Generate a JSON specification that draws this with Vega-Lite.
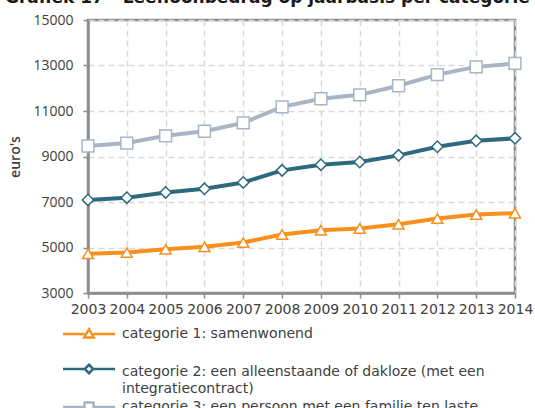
{
  "$schema": "https://vega.github.io/schema/vega-lite/v6.json",
  "width": 427,
  "height": 273,
  "autosize": {"type": "none"},
  "padding": {"left": 88, "top": 20, "right": 20, "bottom": 115},
  "background": "white",
  "title": {
    "text": "Grafiek 17 - Leefloonbedrag op jaarbasis per categorie",
    "anchor": "start",
    "frame": "group",
    "dx": -83,
    "offset": 6.5,
    "font": "DejaVu Sans",
    "fontSize": 17,
    "fontWeight": "bold",
    "color": "#1a1a1a"
  },
  "config": {
    "view": {"stroke": "#8c8c8c", "strokeWidth": 2.5},
    "legend": {"padding": 0}
  },
  "data": {
    "values": [
      {"jaar": "2003", "categorie": "categorie 1: samenwonend", "waarde": 4720},
      {"jaar": "2004", "categorie": "categorie 1: samenwonend", "waarde": 4780},
      {"jaar": "2005", "categorie": "categorie 1: samenwonend", "waarde": 4920},
      {"jaar": "2006", "categorie": "categorie 1: samenwonend", "waarde": 5030},
      {"jaar": "2007", "categorie": "categorie 1: samenwonend", "waarde": 5220},
      {"jaar": "2008", "categorie": "categorie 1: samenwonend", "waarde": 5570},
      {"jaar": "2009", "categorie": "categorie 1: samenwonend", "waarde": 5760},
      {"jaar": "2010", "categorie": "categorie 1: samenwonend", "waarde": 5840},
      {"jaar": "2011", "categorie": "categorie 1: samenwonend", "waarde": 6020},
      {"jaar": "2012", "categorie": "categorie 1: samenwonend", "waarde": 6270},
      {"jaar": "2013", "categorie": "categorie 1: samenwonend", "waarde": 6450},
      {"jaar": "2014", "categorie": "categorie 1: samenwonend", "waarde": 6510},
      {"jaar": "2003", "categorie": "categorie 2: een alleenstaande of dakloze (met een integratiecontract)", "waarde": 7090},
      {"jaar": "2004", "categorie": "categorie 2: een alleenstaande of dakloze (met een integratiecontract)", "waarde": 7190},
      {"jaar": "2005", "categorie": "categorie 2: een alleenstaande of dakloze (met een integratiecontract)", "waarde": 7420},
      {"jaar": "2006", "categorie": "categorie 2: een alleenstaande of dakloze (met een integratiecontract)", "waarde": 7580},
      {"jaar": "2007", "categorie": "categorie 2: een alleenstaande of dakloze (met een integratiecontract)", "waarde": 7860},
      {"jaar": "2008", "categorie": "categorie 2: een alleenstaande of dakloze (met een integratiecontract)", "waarde": 8390},
      {"jaar": "2009", "categorie": "categorie 2: een alleenstaande of dakloze (met een integratiecontract)", "waarde": 8640},
      {"jaar": "2010", "categorie": "categorie 2: een alleenstaande of dakloze (met een integratiecontract)", "waarde": 8760},
      {"jaar": "2011", "categorie": "categorie 2: een alleenstaande of dakloze (met een integratiecontract)", "waarde": 9050},
      {"jaar": "2012", "categorie": "categorie 2: een alleenstaande of dakloze (met een integratiecontract)", "waarde": 9430},
      {"jaar": "2013", "categorie": "categorie 2: een alleenstaande of dakloze (met een integratiecontract)", "waarde": 9690},
      {"jaar": "2014", "categorie": "categorie 2: een alleenstaande of dakloze (met een integratiecontract)", "waarde": 9800},
      {"jaar": "2003", "categorie": "categorie 3: een persoon met een familie ten laste", "waarde": 9460},
      {"jaar": "2004", "categorie": "categorie 3: een persoon met een familie ten laste", "waarde": 9590},
      {"jaar": "2005", "categorie": "categorie 3: een persoon met een familie ten laste", "waarde": 9910},
      {"jaar": "2006", "categorie": "categorie 3: een persoon met een familie ten laste", "waarde": 10110},
      {"jaar": "2007", "categorie": "categorie 3: een persoon met een familie ten laste", "waarde": 10480},
      {"jaar": "2008", "categorie": "categorie 3: een persoon met een familie ten laste", "waarde": 11180},
      {"jaar": "2009", "categorie": "categorie 3: een persoon met een familie ten laste", "waarde": 11540},
      {"jaar": "2010", "categorie": "categorie 3: een persoon met een familie ten laste", "waarde": 11710},
      {"jaar": "2011", "categorie": "categorie 3: een persoon met een familie ten laste", "waarde": 12110},
      {"jaar": "2012", "categorie": "categorie 3: een persoon met een familie ten laste", "waarde": 12600},
      {"jaar": "2013", "categorie": "categorie 3: een persoon met een familie ten laste", "waarde": 12940},
      {"jaar": "2014", "categorie": "categorie 3: een persoon met een familie ten laste", "waarde": 13090}
    ]
  },
  "encoding": {
    "x": {
      "field": "jaar",
      "type": "ordinal",
      "scale": {"type": "point", "padding": 0},
      "axis": {
        "title": null,
        "labelAngle": 0,
        "labelFont": "DejaVu Sans",
        "labelFontSize": 14,
        "labelColor": "#404040",
        "labelPadding": 4,
        "labelOverlap": false,
        "tickSize": 5,
        "tickColor": "#8c8c8c",
        "tickWidth": 1.5,
        "domainColor": "#8c8c8c",
        "domainWidth": 2.5,
        "grid": true,
        "gridColor": "#d9d9d9",
        "gridDash": [6, 4],
        "gridWidth": 1.5
      }
    },
    "y": {
      "field": "waarde",
      "type": "quantitative",
      "scale": {"domain": [3000, 15000], "nice": false},
      "axis": {
        "title": "euro's",
        "values": [3000, 5000, 7000, 9000, 11000, 13000, 15000],
        "format": "d",
        "labelFont": "Open Sans",
        "labelFontSize": 14,
        "labelColor": "#404040",
        "labelPadding": 10,
        "tickSize": 5,
        "tickColor": "#8c8c8c",
        "tickWidth": 1.5,
        "domainColor": "#8c8c8c",
        "domainWidth": 2.5,
        "grid": true,
        "gridColor": "#d9d9d9",
        "gridDash": [6, 4],
        "gridWidth": 1.5,
        "titleFont": "Open Sans",
        "titleFontSize": 14,
        "titleFontWeight": 600,
        "titleColor": "#404040",
        "titlePadding": 10
      }
    }
  },
  "layer": [
    {
      "mark": {"type": "line", "strokeWidth": 4},
      "encoding": {
        "color": {
          "field": "categorie",
          "type": "nominal",
          "scale": {
            "domain": [
              "categorie 1: samenwonend",
              "categorie 2: een alleenstaande of dakloze (met een integratiecontract)",
              "categorie 3: een persoon met een familie ten laste"
            ],
            "range": ["#F7901E", "#2D6A7E", "#A8B5C5"]
          },
          "legend": {
            "title": null,
            "orient": "none",
            "legendX": -6,
            "legendY": 307,
            "direction": "vertical",
            "symbolSize": 100,
            "symbolStrokeWidth": 2.5,
            "labelOffset": 26,
            "labelFont": "DejaVu Sans",
            "labelFontSize": 14,
            "labelColor": "#404040",
            "labelLimit": 500,
            "rowPadding": 1,
            "labelExpr": "datum.index === 1 ? ['categorie 2: een alleenstaande of dakloze (met een', 'integratiecontract)'] : datum.label",
            "encode": {
              "symbols": {
                "update": {
                  "shape": {"signal": "datum.index === 0 ? 'M-5.2,0H-0.9M0.9,0H5.2M0,-0.95L0.95,0.7H-0.95Z' : datum.index === 1 ? 'M0,-3.9M-5.2,0H-0.85M0.85,0H5.2M0,-0.85L0.85,0L0,0.85L-0.85,0Z' : 'M-5.2,0H-0.9M0.9,0H5.2M-0.9,-0.9H0.9V0.9H-0.9Z'"},
                  "fill": {"value": "white"},
                  "fillOpacity": {"value": 1},
                  "strokeWidth": {"value": 2.5}
                }
              },
              "labels": {
                "update": {
                  "lineHeight": {"value": 17},
                  "dy": {"signal": "datum.index === 1 ? 3 : 0"}
                }
              }
            }
          }
        }
      }
    },
    {
      "transform": [{"filter": "datum.categorie === 'categorie 1: samenwonend'"}],
      "mark": {"type": "point", "shape": "triangle-up", "filled": true, "fill": "white", "stroke": "#F7901E", "size": 120, "strokeWidth": 1.5, "opacity": 1}
    },
    {
      "transform": [{"filter": "datum.categorie === 'categorie 2: een alleenstaande of dakloze (met een integratiecontract)'"}],
      "mark": {"type": "point", "shape": "diamond", "filled": true, "fill": "white", "stroke": "#2D6A7E", "size": 130, "strokeWidth": 1.5, "opacity": 1}
    },
    {
      "transform": [{"filter": "datum.categorie === 'categorie 3: een persoon met een familie ten laste'"}],
      "mark": {"type": "point", "shape": "square", "filled": true, "fill": "white", "stroke": "#A8B5C5", "size": 140, "strokeWidth": 1.5, "opacity": 1}
    }
  ]
}
